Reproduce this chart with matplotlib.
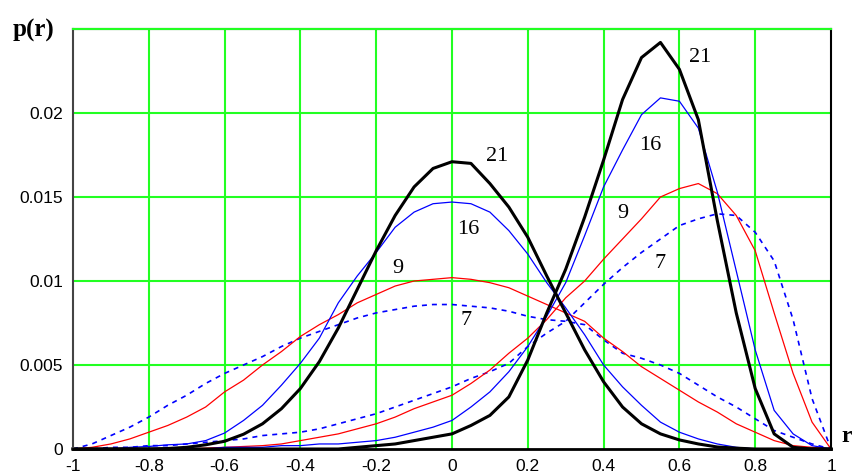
import matplotlib
matplotlib.use("Agg")
import matplotlib.pyplot as plt

# r grid (step 0.05)
r = [-1.00, -0.95, -0.90, -0.85, -0.80, -0.75, -0.70, -0.65, -0.60, -0.55,
     -0.50, -0.45, -0.40, -0.35, -0.30, -0.25, -0.20, -0.15, -0.10, -0.05,
     0.00, 0.05, 0.10, 0.15, 0.20, 0.25, 0.30, 0.35, 0.40, 0.45,
     0.50, 0.55, 0.60, 0.65, 0.70, 0.75, 0.80, 0.85, 0.90, 0.95, 1.00]

# rho = 0 group
p21_a = [0, 0, 0, 0, 0, 0.00003, 0.0001, 0.00025, 0.00046, 0.00088,
         0.0015, 0.0024, 0.0036, 0.0052, 0.0072, 0.0095, 0.0118, 0.0139, 0.0156, 0.0167,
         0.0171, 0.0170, 0.0158, 0.0144, 0.0126, 0.0103, 0.0081, 0.0059, 0.0040, 0.0025,
         0.0015, 0.0009, 0.00054, 0.0003, 0.00012, 0.00005, 0, 0, 0, 0, 0]
p16_a = [0, 0, 0, 0.0001, 0.00015, 0.00025, 0.0003, 0.0005, 0.00095, 0.0017,
         0.0026, 0.0038, 0.0051, 0.0066, 0.0087, 0.0103, 0.0117, 0.0132, 0.0141, 0.0146,
         0.0147, 0.0146, 0.0141, 0.0130, 0.0116, 0.0099, 0.0084, 0.0068, 0.0050, 0.0037,
         0.0026, 0.0016, 0.0010, 0.0006, 0.0003, 0.0001, 0, 0, 0, 0, 0]
p9_a = [0, 0.0001, 0.0003, 0.0006, 0.0010, 0.0014, 0.0019, 0.0025, 0.0034, 0.0041,
        0.0050, 0.0058, 0.0067, 0.0074, 0.0080, 0.0087, 0.0092, 0.0097, 0.0100, 0.0101,
        0.0102, 0.0101, 0.0099, 0.0096, 0.0091, 0.0086, 0.0081, 0.0076, 0.0066, 0.0058,
        0.0049, 0.0042, 0.0035, 0.0028, 0.0022, 0.0015, 0.0010, 0.0005, 0.0002, 0.0001, 0]
p7_a = [0, 0.0003, 0.0008, 0.0013, 0.0019, 0.0026, 0.0032, 0.0039, 0.0045, 0.0050,
        0.0055, 0.0061, 0.0066, 0.0070, 0.0074, 0.0078, 0.0081, 0.0083, 0.0085, 0.0086,
        0.0086, 0.0085, 0.0084, 0.0082, 0.0079, 0.0077, 0.0076, 0.0074, 0.0065, 0.0057,
        0.0054, 0.0050, 0.0045, 0.0038, 0.0031, 0.0025, 0.0018, 0.0011, 0.0007, 0.0003, 0]

# rho ~ 0.55 group
p21_b = [0, 0, 0, 0, 0, 0, 0, 0, 0, 0,
         0, 0, 0, 0, 0, 0.0001, 0.0002, 0.0003, 0.0005, 0.0007,
         0.0009, 0.0014, 0.0020, 0.0031, 0.0053, 0.0081, 0.0107, 0.0138, 0.0172, 0.0208,
         0.0233, 0.0242, 0.0226, 0.0196, 0.0136, 0.0081, 0.0036, 0.0009, 0.0001, 0, 0]
p16_b = [0, 0, 0, 0, 0, 0, 0, 0, 0.0001, 0.0001,
         0.0001, 0.0002, 0.0002, 0.0003, 0.0003, 0.0004, 0.0005, 0.0007, 0.0010, 0.0013,
         0.0017, 0.0025, 0.0034, 0.0046, 0.0061, 0.0079, 0.0099, 0.0127, 0.0156, 0.0178,
         0.0199, 0.0209, 0.0207, 0.0191, 0.0153, 0.0106, 0.0059, 0.0023, 0.0009, 0.0002, 0]
p9_b = [0, 0, 0, 0, 0, 0, 0, 0.00005, 0.0001, 0.00015,
        0.0002, 0.0003, 0.0005, 0.0007, 0.0009, 0.0012, 0.0015, 0.0019, 0.0024, 0.0028,
        0.0032, 0.0039, 0.0047, 0.0057, 0.0066, 0.0077, 0.0090, 0.0100, 0.0113, 0.0125,
        0.0137, 0.0150, 0.0155, 0.0158, 0.0152, 0.0139, 0.0118, 0.0081, 0.0045, 0.0016, 0]
p7_b = [0, 0, 0.0001, 0.0001, 0.0002, 0.0002, 0.0003, 0.0004, 0.0005, 0.0006,
        0.0008, 0.0009, 0.0010, 0.0012, 0.0015, 0.0018, 0.0021, 0.0025, 0.0029, 0.0033,
        0.0037, 0.0042, 0.0046, 0.0051, 0.0061, 0.0069, 0.0076, 0.0087, 0.0098, 0.0108,
        0.0117, 0.0125, 0.0133, 0.0137, 0.0140, 0.0139, 0.0129, 0.0112, 0.0077, 0.0030, 0]

# curve labels: (text, r, p)
labels = [("21", 0.656, 0.02333), ("16", 0.522, 0.01807), ("9", 0.451, 0.01399), ("7", 0.549, 0.01104),
          ("21", 0.120, 0.01741), ("16", 0.044, 0.01304), ("9", -0.143, 0.01074), ("7", 0.037, 0.00762)]

xticks = [-1, -0.8, -0.6, -0.4, -0.2, 0, 0.2, 0.4, 0.6, 0.8, 1]
xticklabels = ["-1", "-0.8", "-0.6", "-0.4", "-0.2", "0", "0.2", "0.4", "0.6", "0.8", "1"]
yticks = [0, 0.005, 0.01, 0.015, 0.02]
yticklabels = ["0", "0.005", "0.01", "0.015", "0.02"]

fig = plt.figure(figsize=(8.57, 4.72), dpi=100)
ax = fig.add_axes([73 / 857, 1 - 449 / 472, 758 / 857, 420 / 472])

green = "#22ff22"
for x in xticks[1:-1]:
    ax.axvline(x, color=green, lw=1.5, zorder=0)
for y in [0.005, 0.01, 0.015, 0.02]:
    ax.axhline(y, color=green, lw=1.5, zorder=0)

dash = dict(color="#0000ff", lw=1.2, linestyle=(0, (3, 3)))
for p7 in (p7_a, p7_b):
    ax.plot(r, p7, **dash)
for p9 in (p9_a, p9_b):
    ax.plot(r, p9, color="#ff0000", lw=0.9)
for p16 in (p16_a, p16_b):
    ax.plot(r, p16, color="#0000ff", lw=0.9)
for p21 in (p21_a, p21_b):
    ax.plot(r, p21, color="black", lw=2.2, clip_on=False)

for txt, x, y in labels:
    ax.text(x, y, txt, fontsize=16, family="Liberation Serif", ha="center", va="center")

ax.set_xlim(-1, 1)
ax.set_ylim(0, 0.025)
ax.set_xticks(xticks)
ax.set_xticklabels(xticklabels)
ax.set_yticks(yticks)
ax.set_yticklabels(yticklabels)
ax.tick_params(length=0, labelsize=12.5, pad=7)
for lab in ax.get_xticklabels() + ax.get_yticklabels():
    lab.set_family("Liberation Sans")

ax.spines["left"].set_color("#444444")
ax.spines["left"].set_linewidth(1.5)
ax.spines["bottom"].set_linewidth(2)
ax.spines["right"].set_linewidth(1.5)
ax.spines["top"].set_linewidth(1.5)
ax.plot([-1, 1], [0.025, 0.025], color=green, lw=1.5, clip_on=False,
        transform=ax.transData, zorder=5)

fig.text(13 / 857, 1 - 30 / 472, "p(r)", fontsize=18, fontweight="bold",
         family="Liberation Serif", ha="left", va="center")
fig.text(841 / 857, 1 - 436 / 472, "r", fontsize=17, fontweight="bold",
         family="Liberation Serif", ha="left", va="center")

fig.savefig("out.png", dpi=100)
